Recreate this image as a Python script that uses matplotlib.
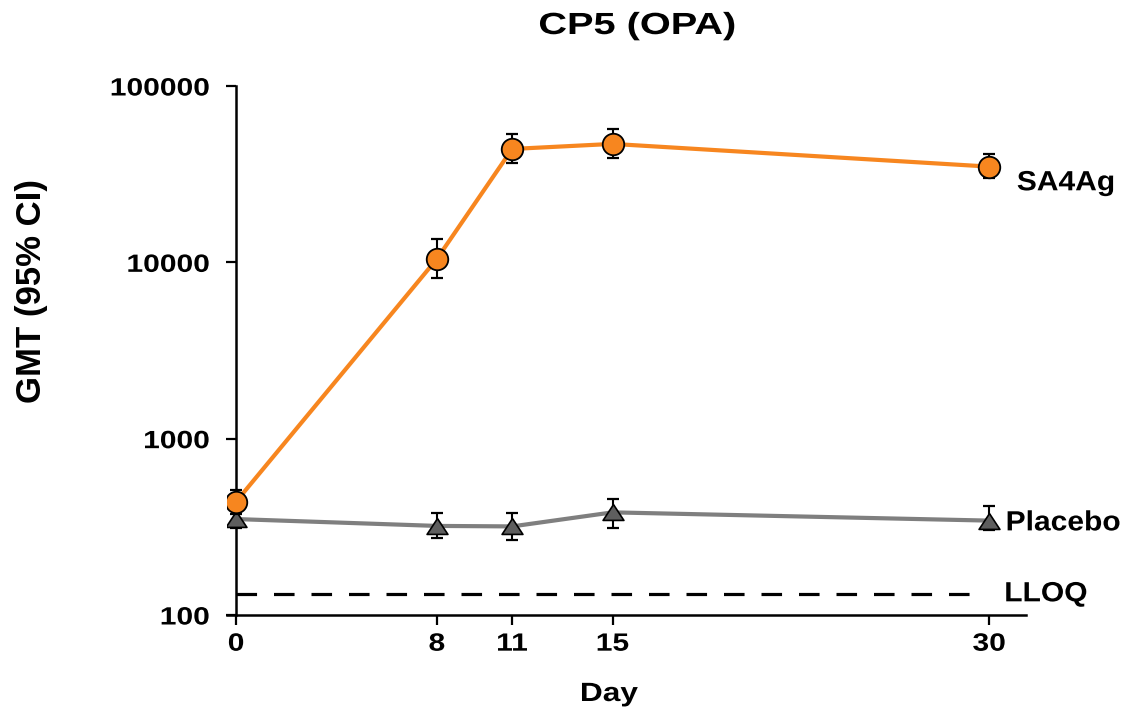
import matplotlib
matplotlib.use("Agg")
from matplotlib import pyplot as plt
from matplotlib.ticker import FixedLocator, FuncFormatter, NullLocator
from matplotlib.patheffects import AbstractPathEffect
from matplotlib.transforms import Affine2D

plt.rcParams['font.family'] = ['Liberation Sans', 'DejaVu Sans']
plt.rcParams['font.weight'] = 'bold'
plt.rcParams['lines.scale_dashes'] = False

# study days and geometric mean titres with 95% CI
dias = [0, 8, 11, 15, 30]
sa4ag = [439, 10450, 43950, 46950, 34900]
sa4ag_inf = [375, 8120, 36500, 39250, 30000]
sa4ag_sup = [512, 13500, 53300, 56900, 41100]
placebo = [350, 320, 318, 382, 343]
placebo_inf = [310, 274, 266, 313, 303]
placebo_sup = [395, 377, 377, 453, 417]
lloq = 131
ticks_dias = [0, 8, 11, 15, 30]
ticks_gmt = [100, 1000, 10000, 100000]

NARANJA = '#F7861F'
GRIS = '#7F7F7F'

########################################################################################
class Ancho(AbstractPathEffect):
    '''Ensancha el texto en horizontal respecto a un borde o al centro'''
    def __init__(self, factor, ancla='center'):
        super().__init__()
        self.factor = factor
        self.ancla = ancla

    def draw_path(self, renderer, gc, tpath, affine, rgbFace=None):
        ext = tpath.get_extents(affine)
        if self.ancla == 'right':
            cx = ext.x1
        elif self.ancla == 'left':
            cx = ext.x0
        else:
            cx = (ext.x0 + ext.x1) / 2
        estirado = affine + Affine2D().translate(-cx, 0).scale(self.factor, 1).translate(cx, 0)
        renderer.draw_path(gc, tpath, estirado, rgbFace)

def barras_error(medias, inf, sup):
    return [[m - i for m, i in zip(medias, inf)], [s - m for m, s in zip(medias, sup)]]

fig = plt.figure(figsize=(11.27, 7.15), dpi=100)
ax = fig.add_axes([227 / 1127, 1 - 615 / 715, 799 / 1127, 529 / 715])

triangulo = [(0, 0.76), (-1, -0.76), (1, -0.76), (0, 0.76)]

ax.plot(dias, placebo, color=GRIS, lw=3, zorder=2, solid_capstyle='round')
ax.errorbar(dias, placebo, yerr=barras_error(placebo, placebo_inf, placebo_sup),
            fmt='none', ecolor='black', elinewidth=1.5, capsize=4, capthick=1.6, zorder=3)
ax.plot(dias, placebo, ls='none', marker=triangulo, ms=15, mfc='#5E5E5E',
        mec='black', mew=1.2, zorder=4)

ax.plot(dias, sa4ag, color=NARANJA, lw=3, zorder=5, solid_capstyle='round')
ax.errorbar(dias, sa4ag, yerr=barras_error(sa4ag, sa4ag_inf, sa4ag_sup),
            fmt='none', ecolor='black', elinewidth=1.5, capsize=4, capthick=1.6, zorder=6)
ax.plot(dias, sa4ag, ls='none', marker='o', ms=15.5, mfc=NARANJA,
        mec='black', mew=1.3, zorder=7)

# limite inferior de cuantificacion
ax.plot([0, 29.24], [lloq, lloq], color='black', lw=2.3, dashes=(14.8, 12.2), zorder=1)

etiquetas = [('SA4Ag', sa4ag[-1], (20, -12)),
             ('Placebo', placebo[-1], (12, -2)),
             ('LLOQ', lloq, (11, 0))]
for texto, valor, desplaz in etiquetas:
    t = ax.annotate(texto, xy=(dias[-1], valor), xytext=desplaz, textcoords='offset points',
                    fontsize=20, fontweight='bold', ha='left', va='center',
                    annotation_clip=False)
    t.set_path_effects([Ancho(1.08, 'left')])

ax.set_yscale('log')
ax.set_ylim(100, 100000)
ax.set_xlim(-0.36, 31.47)
ax.yaxis.set_major_locator(FixedLocator(ticks_gmt))
ax.yaxis.set_minor_locator(NullLocator())
ax.yaxis.set_major_formatter(FuncFormatter(lambda v, p: '%d' % v))
ax.set_xticks(ticks_dias)
ax.set_xticklabels([str(d) for d in ticks_dias])

for lado in ['top', 'right']:
    ax.spines[lado].set_visible(False)
ax.spines['left'].set_position(('data', 0))
for lado in ['left', 'bottom']:
    ax.spines[lado].set_linewidth(1.8)
ax.tick_params(axis='y', length=7, width=1.6, pad=12, labelsize=18)
ax.tick_params(axis='x', length=7, width=1.6, pad=5, labelsize=18)
for lab in ax.get_yticklabels():
    lab.set_fontweight('bold')
    lab.set_path_effects([Ancho(1.2, 'right')])
for lab in ax.get_xticklabels():
    lab.set_fontweight('bold')
    lab.set_path_effects([Ancho(1.2)])

titulo = fig.text(637 / 1127, 1 - 26 / 715, 'CP5 (OPA)', fontsize=22, fontweight='bold',
                  ha='center', va='center')
titulo.set_path_effects([Ancho(1.3)])
eje_x = fig.text(609 / 1127, 1 - 694 / 715, 'Day', fontsize=19, fontweight='bold',
                 ha='center', va='center')
eje_x.set_path_effects([Ancho(1.2)])
fig.text(32 / 1127, 1 - 291 / 715, 'GMT (95% CI)', fontsize=25, fontweight='bold',
         ha='center', va='center', rotation=90)

fig.savefig('out.png', dpi=100, facecolor='white')
